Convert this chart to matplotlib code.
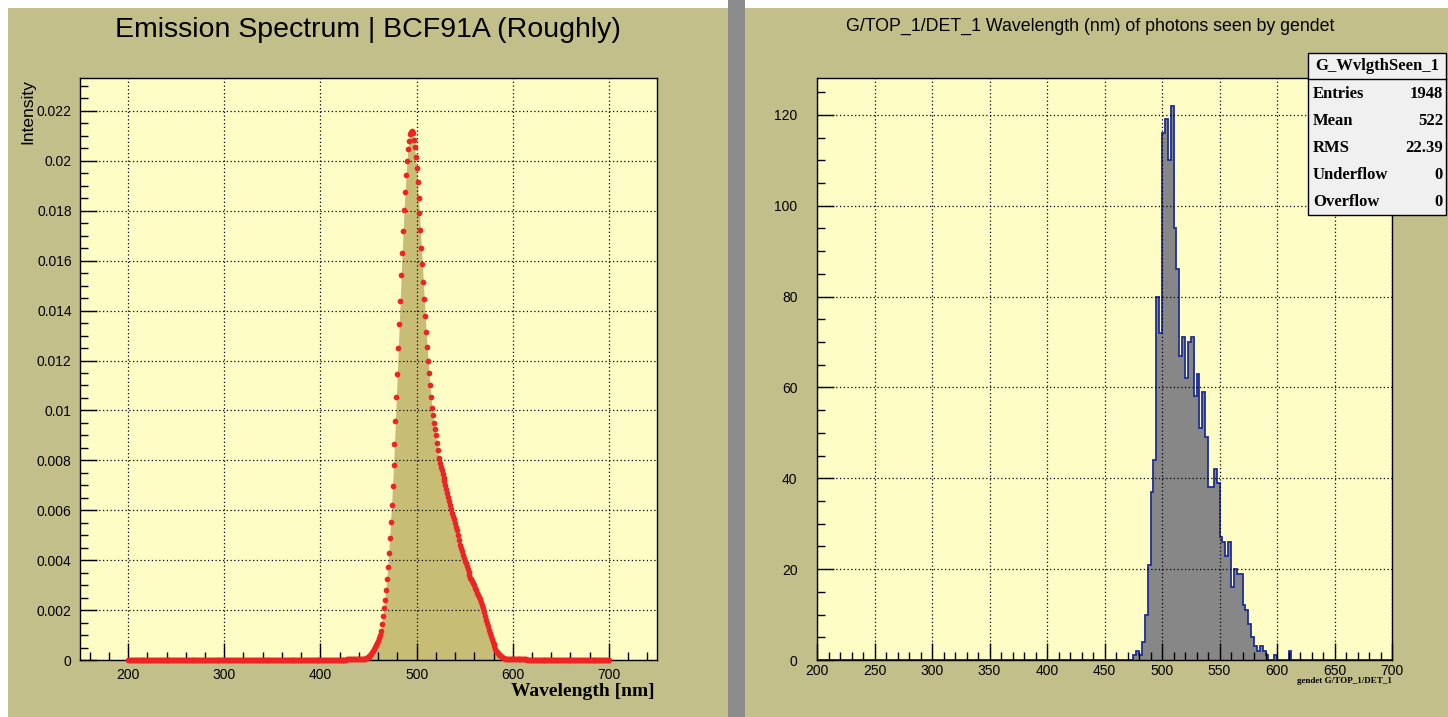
import numpy as np
import matplotlib.pyplot as plt
from matplotlib.patches import Rectangle
from matplotlib.ticker import MultipleLocator

# ---- left pad: emission spectrum, 1 nm steps ----
wl = np.arange(200, 701)  # nm
# intensity; flat zero outside 428..614
spec_low = [0.0] * 228  # 200..427
spec_peak = [
    0.00004, 0.00004, 0.00004, 0.00004, 0.00004, 0.00004, 0.00004, 0.00004, 0.00004, 0.00004,  # 428-437
    0.00004, 0.00004, 0.00004, 0.00004, 0.00004, 0.00004, 0.00004, 0.00005, 0.00006, 0.00007,  # 438-447
    0.00009, 0.00011, 0.00014, 0.00017, 0.00021, 0.00026, 0.00032, 0.00038, 0.00045, 0.00052,  # 448-457
    0.0006, 0.00068, 0.00077, 0.00087, 0.00099, 0.00118, 0.00145, 0.00176, 0.0021, 0.0024,     # 458-467
    0.0028, 0.00323, 0.00374, 0.0043, 0.0049, 0.00554, 0.00623, 0.00699, 0.0078, 0.00866,      # 468-477
    0.00958, 0.01054, 0.01147, 0.0125, 0.01346, 0.0144, 0.01543, 0.01632, 0.01719, 0.01803,    # 478-487
    0.01875, 0.01944, 0.0200, 0.02046, 0.0208, 0.02106, 0.02116, 0.0212, 0.02112, 0.02083,     # 488-497
    0.02054, 0.02014, 0.0197, 0.01914, 0.01852, 0.01792, 0.01723, 0.01652, 0.01586, 0.01516,   # 498-507
    0.01446, 0.01379, 0.01315, 0.01255, 0.0120, 0.0115, 0.0110, 0.01054, 0.0101, 0.0098,       # 508-517
    0.0095, 0.00925, 0.009, 0.0087, 0.0084, 0.0081, 0.0079, 0.00775, 0.0076, 0.00745,          # 518-527
    0.0073, 0.00716, 0.00703, 0.00685, 0.0067, 0.00655, 0.00638, 0.0062, 0.00607, 0.0059,      # 528-537
    0.00578, 0.00563, 0.00548, 0.00533, 0.0052, 0.005, 0.0048, 0.0046, 0.00448, 0.00435,       # 538-547
    0.00422, 0.0041, 0.00398, 0.00387, 0.00376, 0.00365, 0.00353, 0.00341, 0.0033, 0.00323,    # 548-557
    0.00316, 0.0031, 0.003, 0.0029, 0.0028, 0.0027, 0.0026, 0.00251, 0.00243, 0.00232,         # 558-567
    0.0022, 0.00207, 0.00192, 0.00177, 0.00162, 0.0015, 0.00137, 0.0012, 0.00108, 0.00097,     # 568-577
    0.00086, 0.00074, 0.00063, 0.00055, 0.00046, 0.00038, 0.00032, 0.00027, 0.00022, 0.00019,  # 578-587
    0.00016, 0.00013, 0.0001, 0.00008, 0.00006, 0.00004, 0.00003, 0.00003, 0.00003, 0.00003,   # 588-597
    0.00003, 0.00003, 0.00003, 0.00003, 0.00003, 0.00003, 0.00003, 0.00003, 0.00003, 0.00003,  # 598-607
    0.00003, 0.00003, 0.00003, 0.00003, 0.00003, 0.00003, 0.00003,                             # 608-614
]
spec_high = [0.0] * 86  # 615..700
intensity = np.array(spec_low + spec_peak + spec_high)

# ---- right pad: histogram of seen wavelengths, 2.5 nm bins ----
bin_edges = np.arange(200, 700.1, 2.5)
counts_mid = [
    1, 2, 1, 4, 10, 21, 37, 44, 80, 72,          # 475-497.5
    116, 119, 110, 122, 95, 86, 67, 71, 62, 70,  # 500-522.5
    71, 58, 63, 51, 59, 49, 38, 38, 42, 39,      # 525-547.5
    27, 26, 23, 26, 16, 20, 19, 19, 12, 11,      # 550-572.5
    8, 5, 3, 2, 3, 2, 1, 0, 0, 1,                # 575-597.5
    0, 0, 0, 0, 2,                               # 600-610
]
counts = np.array([0] * 110 + counts_mid + [0] * 35)

stats_labels = ["Entries", "Mean", "RMS", "Underflow", "Overflow"]
stats_values = ["1948", "522", "22.39", "0", "0"]

W, H = 1448, 717
pad_col = "#C2BF8A"
frame_col = "#FFFDC6"
sans = "Liberation Sans"
serif = "Liberation Serif"


def fx(px):
    return px / W


def fy(py):
    return 1 - py / H


fig = plt.figure(figsize=(W / 100, H / 100), dpi=100)
fig.patch.set_facecolor("white")
fig.patches.append(Rectangle((fx(8), 0), fx(720), fy(8), transform=fig.transFigure,
                             facecolor=pad_col, edgecolor="none", zorder=-5))
fig.patches.append(Rectangle((fx(728), 0), fx(17), 1, transform=fig.transFigure,
                             facecolor="#8C8C8C", edgecolor="none", zorder=-5))
fig.patches.append(Rectangle((fx(745), 0), fx(703), fy(8), transform=fig.transFigure,
                             facecolor=pad_col, edgecolor="none", zorder=-5))


def style_axes(ax):
    ax.set_facecolor(frame_col)
    for s in ax.spines.values():
        s.set_linewidth(1.0)
        s.set_color("black")
    ax.tick_params(which="both", direction="in", top=False, right=False, colors="black")
    ax.tick_params(which="major", length=12, width=1)
    ax.tick_params(which="minor", length=6, width=1)
    ax.grid(True, which="major", color="black", linestyle=(0, (1, 2)), linewidth=0.9)
    ax.set_axisbelow(False)


# left
ax1 = fig.add_axes([fx(80), fy(660), fx(577), 582 / H])
style_axes(ax1)
ax1.fill_between(wl, intensity, 0, color="#C8BD74", linewidth=0, zorder=1)
ax1.plot(wl, intensity, "o", ms=4.1, color="#EC2424", mec="none", zorder=3, clip_on=False)
ax1.set_xlim(150, 750)
ax1.set_ylim(0, 0.02332)
ax1.xaxis.set_major_locator(MultipleLocator(100))
ax1.xaxis.set_minor_locator(MultipleLocator(20))
ax1.yaxis.set_major_locator(MultipleLocator(0.002))
ax1.yaxis.set_minor_locator(MultipleLocator(0.0005))
ax1.set_xticks([200, 300, 400, 500, 600, 700])
ax1.set_yticks(np.arange(0, 0.0221, 0.002))
ax1.set_yticklabels(["0", "0.002", "0.004", "0.006", "0.008", "0.01", "0.012",
                     "0.014", "0.016", "0.018", "0.02", "0.022"])
ax1.tick_params(axis="x", which="major", pad=6)
ax1.tick_params(axis="y", which="major", pad=6)
for lab in ax1.get_xticklabels() + ax1.get_yticklabels():
    lab.set_fontfamily(sans)
    lab.set_fontsize(10)
fig.text(fx(368), fy(30), "Emission Spectrum | BCF91A (Roughly)", ha="center", va="center",
         fontsize=20.5, family=sans)
fig.text(fx(28), fy(79), "Intensity", rotation=90, ha="center", va="top", fontsize=12.5, family=sans)
fig.text(fx(655), fy(692), "Wavelength [nm]", ha="right", va="center", fontsize=14,
         family=serif, fontweight="bold")

# right
ax2 = fig.add_axes([fx(817), fy(660), fx(575), 582 / H])
style_axes(ax2)
ax2.stairs(counts, bin_edges, fill=True, color="#878787", zorder=1)
ax2.stairs(counts, bin_edges, color="#1E2E96", linewidth=1.3, zorder=2)
ax2.set_xlim(200, 700)
ax2.set_ylim(0, 128.1)
ax2.xaxis.set_major_locator(MultipleLocator(50))
ax2.xaxis.set_minor_locator(MultipleLocator(10))
ax2.yaxis.set_major_locator(MultipleLocator(20))
ax2.yaxis.set_minor_locator(MultipleLocator(5))
ax2.tick_params(axis="x", which="major", pad=3)
ax2.tick_params(axis="y", which="major", pad=14)
for lab in ax2.get_xticklabels() + ax2.get_yticklabels():
    lab.set_fontfamily(sans)
    lab.set_fontsize(10)
fig.text(fx(1090), fy(26), "G/TOP_1/DET_1 Wavelength (nm) of photons seen by gendet",
         ha="center", va="center", fontsize=12.8, family=sans)
fig.text(fx(1392), fy(681), "gendet G/TOP_1/DET_1", ha="right", va="center", fontsize=6.5,
         family=serif, fontweight="bold")

# stats box
fig.patches.append(Rectangle((fx(1308), fy(215)), fx(138), (215 - 53) / H, transform=fig.transFigure,
                             facecolor="#F0F0F0", edgecolor="black", linewidth=1, zorder=5))
fig.lines.append(plt.Line2D([fx(1308), fx(1446)], [fy(79), fy(79)], transform=fig.transFigure,
                            color="black", linewidth=1, zorder=6))
fig.text(fx(1377), fy(66), "G_WvlgthSeen_1", ha="center", va="center", fontsize=12,
         family=serif, fontweight="bold", zorder=7)
for i, (lab, val) in enumerate(zip(stats_labels, stats_values)):
    y = 94 + i * 27
    fig.text(fx(1313), fy(y), lab, ha="left", va="center", fontsize=12, family=serif,
             fontweight="bold", zorder=7)
    fig.text(fx(1443), fy(y), val, ha="right", va="center", fontsize=12, family=serif,
             fontweight="bold", zorder=7)

fig.savefig("out.png", dpi=100)
